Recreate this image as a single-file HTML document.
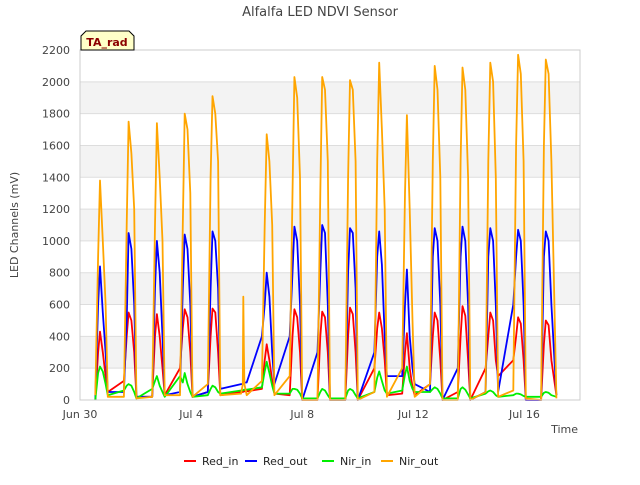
<!DOCTYPE html>
<html><head><meta charset="utf-8"><style>
body{margin:0;background:#fff;font-family:"Liberation Sans","DejaVu Sans",sans-serif;}
</style></head><body>
<svg width="640" height="480" xmlns="http://www.w3.org/2000/svg" font-family="DejaVu Sans, Liberation Sans, sans-serif">
<g id="bands"></g>
<g id="grid"></g>
<g id="series"></g>
<rect x="80" y="50" width="500" height="350" fill="none" stroke="#ccc"/>
<g id="yticks" font-size="11" fill="#444" text-anchor="end"></g>
<g id="xticks" font-size="11" fill="#444" text-anchor="middle"></g>
<text x="320" y="16" text-anchor="middle" font-size="13" fill="#444">Alfalfa LED NDVI Sensor</text>
<text x="18" y="225" text-anchor="middle" font-size="11" fill="#444" transform="rotate(-90 18 225)">LED Channels (mV)</text>
<text x="578" y="433" text-anchor="end" font-size="11" fill="#444">Time</text>
<g>
<path d="M81,50 L81,36 L86,31 L129,31 L134,36 L134,50 Z" fill="#ffffc8" stroke="#000"/>
<text x="107" y="46" text-anchor="middle" font-size="11" font-weight="bold" fill="#8b0000">TA_rad</text>
</g>
<g id="legend" font-size="11" fill="#222"></g>
</svg>
<script>
const NS="http://www.w3.org/2000/svg";
const yTicks=[0,200,400,600,800,1000,1200,1400,1600,1800,2000,2200];
const xTickDays=[0,4,8,12,16];
const xTickLabels=["Jun 30","Jul 4","Jul 8","Jul 12","Jul 16"];
const times=[0.55,0.65,0.72,0.82,0.92,1.0, 1.58,1.68,1.75,1.85,1.95,2.03, 2.6,2.7,2.77,2.87,2.97,3.05, 3.6,3.7,3.77,3.87,3.97,4.05, 4.6,4.7,4.77,4.87,4.97,5.05, 5.8,5.86,5.88,5.9,5.92,6.0, 6.55,6.65,6.72,6.82,6.92,7.0, 7.55,7.65,7.72,7.82,7.92,8.0, 8.55,8.65,8.72,8.82,8.92,9.0, 9.55,9.65,9.72,9.82,9.92,10.0, 10.6,10.7,10.77,10.87,10.97,11.05, 11.6,11.7,11.77,11.87,11.97,12.05, 12.6,12.7,12.77,12.87,12.97,13.05, 13.6,13.7,13.77,13.87,13.97,14.05, 14.6,14.7,14.77,14.87,14.97,15.05, 15.6,15.7,15.77,15.87,15.97,16.05, 16.6,16.7,16.77,16.87,16.97,17.15];
const nirOut=[30,900,1380,1000,600,20, 20,1100,1750,1550,1200,10, 20,1100,1740,1400,1000,30, 30,1100,1800,1700,1300,20, 100,1400,1910,1800,1500,30, 40,100,650,300,100,30, 120,1100,1670,1500,1100,30, 150,1300,2030,1900,1400,0, 0,1300,2030,1950,1500,0, 0,1400,2010,1950,1500,0, 50,1500,2120,1700,1200,20, 200,1300,1790,1200,500,20, 100,1500,2100,1950,1400,0, 0,1500,2090,1950,1400,0, 50,1500,2120,2000,1400,20, 60,1600,2170,2050,1500,10, 0,1600,2140,2050,1500,10];
const redOut=[0,600,840,550,300,50, 50,500,1050,950,600,20, 20,700,1000,800,400,30, 50,700,1040,950,600,20, 50,700,1060,1000,700,70, 100,100,105,110,110,110, 400,600,800,650,300,100, 400,800,1090,1000,600,0, 300,800,1100,1050,600,0, 0,800,1080,1050,700,0, 300,900,1060,850,400,150, 150,600,820,400,200,100, 50,900,1080,1000,600,0, 200,900,1090,1000,600,0, 50,900,1080,1000,600,50, 600,900,1070,1000,600,0, 0,900,1060,1000,600,30];
const redIn=[0,300,430,300,150,50, 120,400,550,500,300,20, 20,400,540,400,200,30, 200,450,570,520,300,20, 50,400,575,550,300,30, 50,50,52,55,55,55, 70,250,350,250,120,40, 30,400,570,520,300,0, 0,400,555,520,300,0, 0,400,580,540,300,0, 200,450,550,450,250,30, 40,300,420,200,80,30, 100,400,550,500,250,0, 50,400,590,530,250,0, 200,400,550,500,250,150, 250,400,520,480,250,0, 0,350,500,470,250,30];
const nirIn=[0,170,210,180,100,30, 60,90,100,90,50,10, 70,120,150,90,50,20, 150,110,170,100,50,20, 30,70,90,80,50,40, 60,60,62,65,65,65, 80,180,240,170,90,40, 40,70,70,65,40,10, 10,50,70,60,30,10, 10,60,70,60,30,10, 50,140,180,120,60,40, 60,160,210,120,70,50, 50,70,80,70,40,10, 10,70,80,65,35,10, 40,55,60,50,30,20, 30,40,40,35,25,20, 20,45,50,45,30,20];
const seriesNames=["Red_in","Red_out","Nir_in","Nir_out"];
const seriesColors=["#ff0000","#0000ff","#00ee00","#ffa500"];
const seriesData=[redIn,redOut,nirIn,nirOut];

const X0=80,X1=580,Y0=400,Y1=50,DMAX=18;
const xs=d=>X0+d/DMAX*(X1-X0);
const ys=v=>Y0-v/2200*(Y0-Y1);
function mk(tag,attrs,parent){const e=document.createElementNS(NS,tag);for(const k in attrs)e.setAttribute(k,attrs[k]);parent.appendChild(e);return e;}
const bands=document.getElementById('bands'),grid=document.getElementById('grid');
for(let i=0;i<yTicks.length-1;i++){
  if(i%2===1){const r=mk('rect',{x:X0,y:ys(yTicks[i+1]),width:X1-X0,height:ys(yTicks[i])-ys(yTicks[i+1]),fill:'#f3f3f3'},bands);
  
  }
}
const yg=document.getElementById('yticks');
yTicks.forEach(v=>{
  const l=mk('line',{x1:X0,x2:X1,y1:ys(v),y2:ys(v),stroke:'#ddd'},grid);
  
  
  const t=mk('text',{x:X0-10,y:ys(v)+4},yg);t.textContent=v;
  
  
});
const xg=document.getElementById('xticks');
xTickDays.forEach((d,i)=>{
  const t=mk('text',{x:xs(d),y:418},xg);t.textContent=xTickLabels[i];
  
  
});
const sg=document.getElementById('series');
seriesData.forEach((vals,si)=>{
  const pts=vals.map((v,i)=>xs(times[i]).toFixed(1)+','+ys(v).toFixed(1)).join(' ');
  const p=mk('polyline',{points:pts,fill:'none',stroke:seriesColors[si],'stroke-width':1.8,'stroke-linejoin':'round'},sg);
  
  
});
const lg=document.getElementById('legend');
const legX=[184,245,322,381];
seriesNames.forEach((n,i)=>{
  const g=mk('g',{},lg);
  
  
  mk('line',{x1:legX[i],x2:legX[i]+12,y1:461,y2:461,stroke:seriesColors[i],'stroke-width':2},g);
  const t=mk('text',{x:legX[i]+18,y:465},g);t.textContent=n;
});
</script>
</body></html>
